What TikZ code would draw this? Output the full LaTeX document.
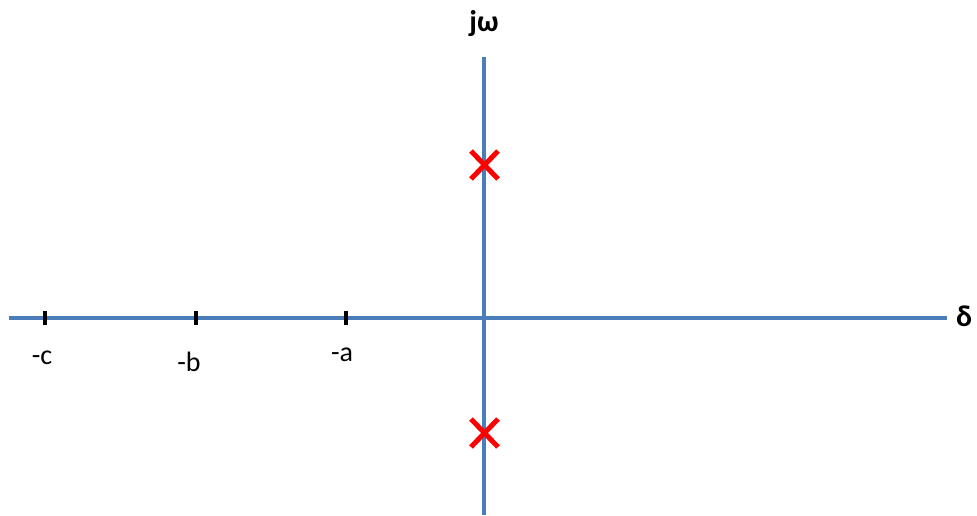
\documentclass[tikz,border=0pt]{standalone}
\usepackage{fontspec}
\setmainfont{Carlito}
\definecolor{axisblue}{RGB}{74,126,187}
\begin{document}
\begin{tikzpicture}[x=1pt,y=-1pt,
  axis/.style={axisblue,line width=3.5pt},
  tickmark/.style={black,line width=4.5pt},
  pole/.style={red,line width=5pt},
  lbl/.style={inner sep=0pt,font=\fontsize{28}{32}\selectfont},
  axlbl/.style={inner sep=0pt,font=\fontsize{30}{34}\selectfont\bfseries}]
\useasboundingbox (0,0) rectangle (977,515);
\coordinate (hl) at (9,318);
\coordinate (hr) at (947,318);
\coordinate (vt) at (484,57);
\coordinate (vb) at (484,515);
\draw[axis] (hl) -- (hr);
\draw[axis] (vt) -- (vb);
\node[axlbl] (jw) at (484,24) {jω};
\node[axlbl] (delta) at (964,316) {δ};
\foreach \n/\x in {c/45,b/196,a/346}{
  \coordinate (t\n1) at (\x,311);
  \coordinate (t\n2) at (\x,325);
  \draw[tickmark] (t\n1) -- (t\n2);
}
\node[lbl] (lc) at (42,358) {-c};
\node[lbl] (lb) at (189,362) {-b};
\node[lbl] (la) at (342,355) {-a};
\foreach \n/\y in {p1/165,p2/433}{
  \coordinate (\n a) at (471,\y-14);
  \coordinate (\n b) at (498,\y+14);
  \coordinate (\n c) at (471,\y+14);
  \coordinate (\n d) at (498,\y-14);
  \draw[pole] (\n a) -- (\n b);
  \draw[pole] (\n c) -- (\n d);
}
\end{tikzpicture}
\end{document}
